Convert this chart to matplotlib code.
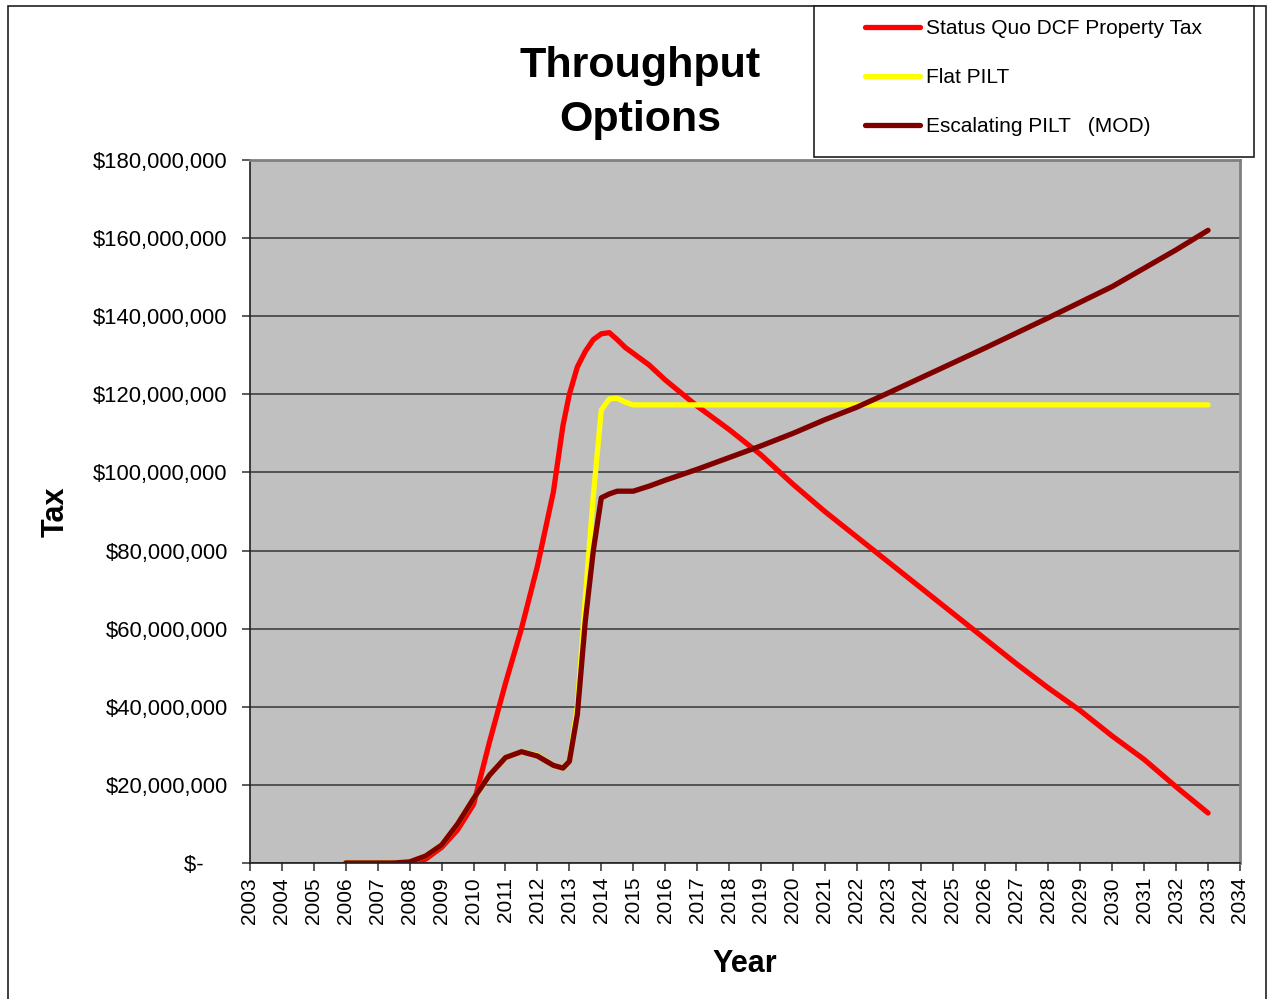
import matplotlib
matplotlib.use("Agg")
import matplotlib.pyplot as plt
from matplotlib.patches import Rectangle
from matplotlib.ticker import FuncFormatter, MultipleLocator

plt.rcParams['font.family'] = ['Liberation Sans', 'DejaVu Sans']

# time axis (years, finer steps around the 2013-2014 ramp)
years = [2006, 2006.5, 2007, 2007.5, 2008, 2008.5, 2009, 2009.5, 2010, 2010.5,
         2011, 2011.5, 2012, 2012.5, 2012.8, 2013, 2013.25, 2013.5, 2013.75,
         2014, 2014.25, 2014.5, 2014.75, 2015, 2015.5, 2016, 2017, 2018, 2019,
         2020, 2021, 2022, 2023, 2024, 2025, 2026, 2027, 2028, 2029, 2030,
         2031, 2032, 2033]

# tax in $ millions
status_quo = [0, 0, 0, 0, 0, 1.0, 4.0, 8.5, 15, 31,
              46, 60, 76, 95, 112, 120, 127, 131, 134,
              135.5, 135.8, 134, 132, 130.5, 127.5, 123.7, 117, 111, 104.5,
              97, 90, 83.5, 77, 70.5, 64, 57.5, 51, 44.8, 39, 32.5,
              26.5, 19.5, 12.8]
flat_pilt = [0, 0, 0, 0, 0.3, 1.8, 4.6, 10, 16.5, 22.5,
             27, 28.5, 27.6, 25, 24.3, 26, 40, 68, 94,
             116, 118.8, 119, 118, 117.3, 117.3, 117.3, 117.3, 117.3, 117.3,
             117.3, 117.3, 117.3, 117.3, 117.3, 117.3, 117.3, 117.3, 117.3, 117.3, 117.3,
             117.3, 117.3, 117.3]
escalating_pilt = [0, 0, 0, 0, 0.3, 1.8, 4.6, 10, 16.5, 22.5,
                   27, 28.5, 27.4, 25, 24.3, 26, 38, 62, 80,
                   93.5, 94.5, 95.2, 95.2, 95.2, 96.5, 98, 100.8, 103.8, 106.8,
                   110, 113.5, 116.7, 120.4, 124.2, 128, 131.8, 135.7, 139.6, 143.6, 147.6,
                   152.3, 157, 162]

series = [
    ("Status Quo DCF Property Tax", status_quo, "#FF0000"),
    ("Flat PILT", flat_pilt, "#FFFF00"),
    ("Escalating PILT   (MOD)", escalating_pilt, "#800000"),
]

W, H = 1274, 999
fig = plt.figure(figsize=(W / 100, H / 100), dpi=100)
ax = fig.add_axes([250 / W, 1 - 863 / H, 990 / W, 703 / H])
ax.set_facecolor("#C0C0C0")

for label, vals, color in series:
    ax.plot(years, [v * 1e6 for v in vals], color=color, lw=3.8, label=label,
            solid_capstyle="round", solid_joinstyle="round")

ax.set_xlim(2003, 2034)
ax.set_ylim(0, 180e6)
ax.xaxis.set_major_locator(MultipleLocator(1))
ax.yaxis.set_major_locator(MultipleLocator(20e6))
ax.yaxis.set_major_formatter(
    FuncFormatter(lambda v, p: "$-    " if v == 0 else f"${v:,.0f}"))
ax.xaxis.set_major_formatter(FuncFormatter(lambda v, p: f"{int(round(v))}"))
ax.tick_params(axis="x", labelrotation=90, labelsize=15, length=6,
               width=1.2, color="#404040", pad=4)
ax.tick_params(axis="y", labelsize=15.8, length=6, width=1.2, color="#404040", pad=10)
ax.grid(axis="y", color="#404040", lw=1.2)
ax.set_axisbelow(True)

for side in ("top", "right"):
    ax.spines[side].set_color("#808080")
    ax.spines[side].set_linewidth(2)
for side in ("left", "bottom"):
    ax.spines[side].set_color("#202020")
    ax.spines[side].set_linewidth(1.2)

ax.set_xlabel("Year", fontsize=22, fontweight="bold", labelpad=18)
ax.set_ylabel("Tax", fontsize=22, fontweight="bold")
ax.yaxis.set_label_coords((71 - 250) / 990, 0.5)

fig.text(640 / W, 1 - 93 / H, "Throughput\nOptions", ha="center", va="center",
         fontsize=31, fontweight="bold", linespacing=1.47)

# outer frame and legend box
fig.patches.append(Rectangle((8 / W, -0.01), 1258 / W, 1 - 6 / H + 0.01,
                             transform=fig.transFigure, fill=False,
                             edgecolor="#202020", lw=1.2))
fig.patches.append(Rectangle((814 / W, 1 - 157 / H), 440 / W, 151 / H,
                             transform=fig.transFigure, fill=True,
                             facecolor="white", edgecolor="#202020", lw=1.2, zorder=2))

leg = fig.legend(loc="upper left", bbox_to_anchor=(865 / W, 1 - 19 / H),
                 frameon=False, fontsize=15, handlelength=2.65,
                 handletextpad=0.3, labelspacing=1.45, borderpad=0,
                 borderaxespad=0)
for line in leg.get_lines():
    line.set_linewidth(3.8)
leg.set_zorder(3)

fig.savefig("out.png", dpi=100)
